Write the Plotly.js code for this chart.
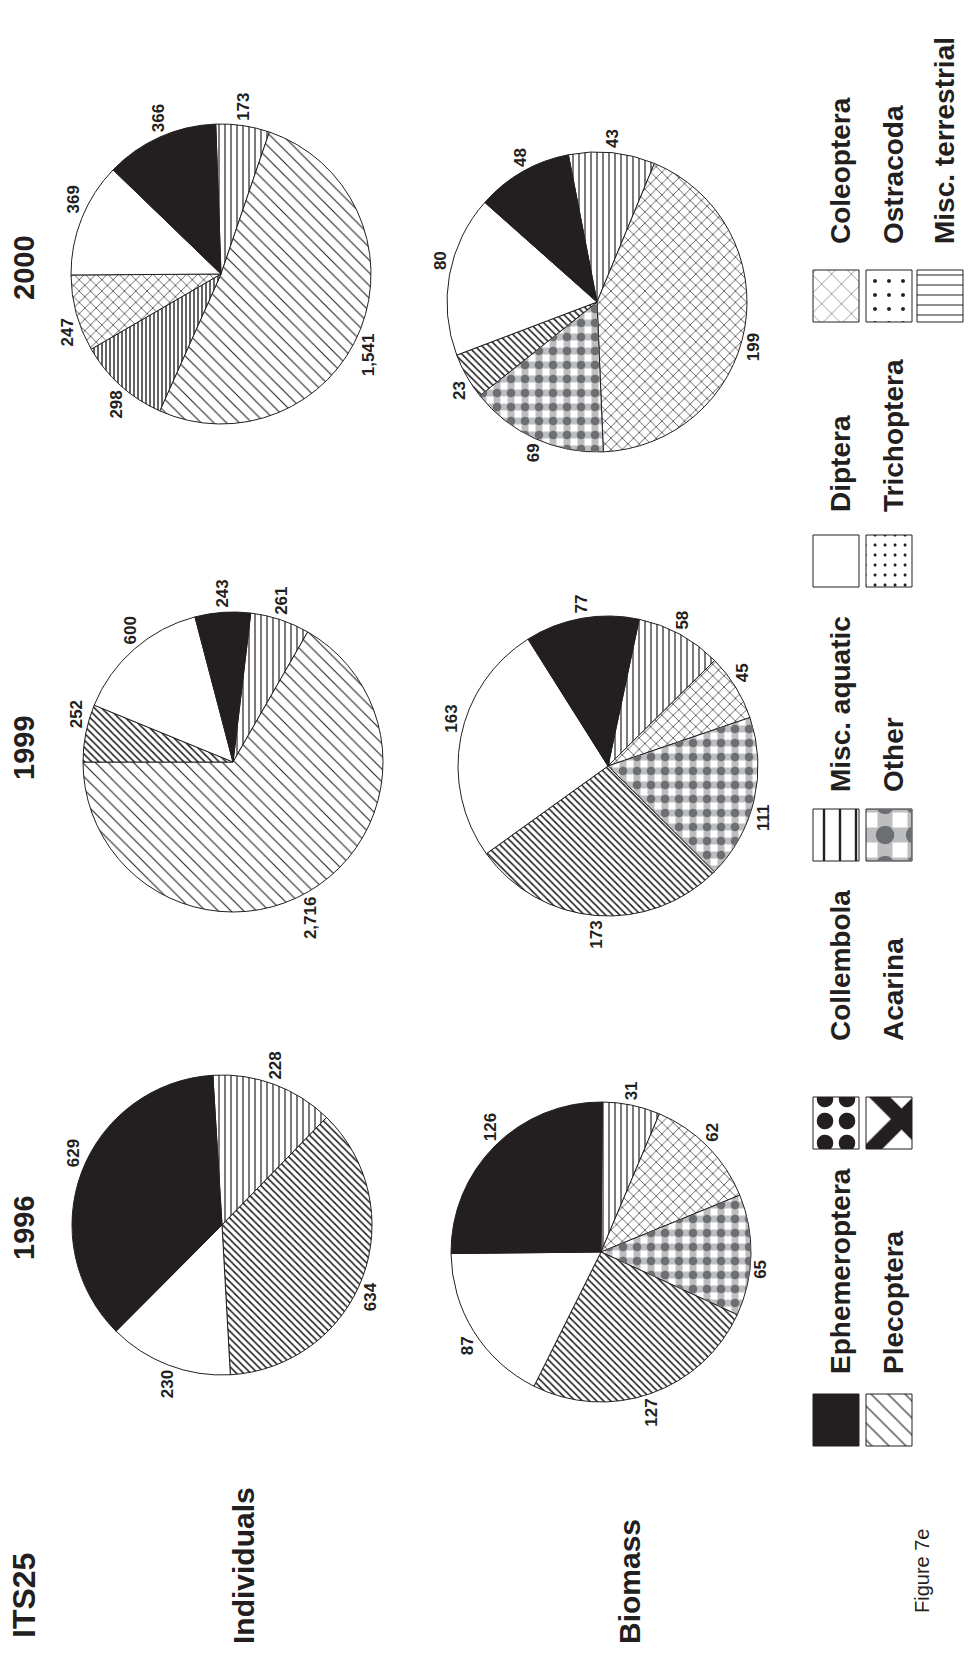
<!DOCTYPE html>
<html>
<head>
<meta charset="utf-8">
<script src="https://cdn.plot.ly/plotly-3.0.1.min.js"></script>
<style>
html, body { margin:0; padding:0; width:972px; height:1660px; overflow:hidden; background:#ffffff; }
#chart { position:absolute; left:0; top:0; width:1660px; height:972px;
         transform-origin:0 0; transform:translate(0px,1660px) rotate(-90deg); }
</style>
</head>
<body>
<div id="chart"></div>
<script>
// ---------------- DATA ----------------
// slice order (drawn clockwise from the Ephemeroptera / Misc. terrestrial boundary)
const pieCategories = ['Misc. terrestrial', 'Ostracoda', 'Misc. aquatic', 'Coleoptera', 'Other', 'Plecoptera', 'Diptera', 'Ephemeroptera'];

const individuals1996 = [228, 0, 0, 0, 0, 634, 230, 629];
const individuals1999 = [261, 2716, 0, 0, 0, 252, 600, 243];
const individuals2000 = [173, 1541, 298, 247, 0, 0, 369, 366];

const biomass1996 = [31, 0, 0, 62, 65, 127, 87, 126];
const biomass1999 = [58, 0, 0, 45, 111, 173, 163, 77];
const biomass2000 = [43, 0, 0, 199, 69, 23, 80, 48];

const years = ['1996', '1999', '2000'];
const rowTitles = ['Individuals', 'Biomass'];
const legendLabels = ['Ephemeroptera', 'Plecoptera', 'Collembola', 'Acarina', 'Misc. aquatic', 'Other',
                      'Diptera', 'Trichoptera', 'Coleoptera', 'Ostracoda', 'Misc. terrestrial'];
const figureTitle = 'ITS25';
const figureNote = 'Figure 7e';

// ---------------- LAYOUT / STYLE ----------------
const W = 1660, H = 972, R = 150;
const FONT = '"Liberation Sans", Arial, Helvetica, sans-serif';
const INK = '#231f20';
const CLEAR = 'rgba(0,0,0,0)';
const LIGHTGREY = '#bcbec0', DARKGREY = '#6d6e71';

// pie slice fills (base layer)
const pieStyle = {
  'Ephemeroptera':     {color: INK,       shape: '',  size: 8,  solidity: 0.3,  fg: INK,       bg: INK},
  'Diptera':           {color: '#ffffff', shape: '',  size: 8,  solidity: 0.3,  fg: INK,       bg: '#ffffff'},
  'Plecoptera':        {color: '#ffffff', shape: '/', size: 5,  solidity: 0.32, fg: INK,       bg: '#ffffff'},
  'Other':             {color: '#ffffff', shape: '+', size: 14, solidity: 0.75, fg: LIGHTGREY, bg: '#ffffff'},
  'Coleoptera':        {color: '#ffffff', shape: 'x', size: 8,  solidity: 0.16, fg: INK,       bg: '#ffffff'},
  'Misc. aquatic':     {color: '#ffffff', shape: '-', size: 4,  solidity: 0.35, fg: INK,       bg: '#ffffff'},
  'Ostracoda':         {color: '#ffffff', shape: '/', size: 9,  solidity: 0.12, fg: INK,       bg: '#ffffff'},
  'Misc. terrestrial': {color: '#ffffff', shape: '-', size: 6,  solidity: 0.2,  fg: INK,       bg: '#ffffff'}
};
// overlay layer: dark squares at the crossings of the "Other" check
const pieOverlay = {'Other': {shape: '.', size: 14, solidity: 0.3, fg: DARKGREY}};

// legend swatch fills
const swatchStyle = {
  'Ephemeroptera':     {color: INK,       shape: '',  size: 8,  solidity: 0.3,  fg: INK,       bg: INK},
  'Plecoptera':        {color: '#ffffff', shape: '/', size: 12, solidity: 0.1,  fg: INK,       bg: '#ffffff'},
  'Collembola':        {color: '#ffffff', shape: '.', size: 22, solidity: 0.45, fg: INK,       bg: '#ffffff'},
  'Acarina':           {color: '#ffffff', shape: 'x', size: 51, solidity: 0.5,  fg: INK,       bg: '#ffffff'},
  'Misc. aquatic':     {color: '#ffffff', shape: '-', size: 16, solidity: 0.15, fg: INK,       bg: '#ffffff'},
  'Other':             {color: '#ffffff', shape: '+', size: 30, solidity: 0.75, fg: LIGHTGREY, bg: '#ffffff'},
  'Diptera':           {color: '#ffffff', shape: '',  size: 8,  solidity: 0.3,  fg: INK,       bg: '#ffffff'},
  'Trichoptera':       {color: '#ffffff', shape: '.', size: 10, solidity: 0.08, fg: INK,       bg: '#ffffff'},
  'Coleoptera':        {color: '#ffffff', shape: 'x', size: 14, solidity: 0.06, fg: INK,       bg: '#ffffff'},
  'Ostracoda':         {color: '#ffffff', shape: '.', size: 14, solidity: 0.06, fg: INK,       bg: '#ffffff'},
  'Misc. terrestrial': {color: '#ffffff', shape: '|', size: 10, solidity: 0.1,  fg: INK,       bg: '#ffffff'}
};
const swatchOverlay = {'Other': {shape: '.', size: 30, solidity: 0.3, fg: DARKGREY}};

// pie placement in the unrotated frame (u: left->right, v: top->bottom), start angle in degrees
const pieSpecs = [
  {values: individuals1996, u: 435,  v: 222, rot: 86.5},
  {values: biomass1996,     u: 408,  v: 601, rot: 90.5},
  {values: individuals1999, u: 898,  v: 233, rot: 96.8},
  {values: biomass1999,     u: 894,  v: 608, rot: 102},
  {values: individuals2000, u: 1386, v: 221, rot: 88},
  {values: biomass2000,     u: 1358, v: 597, rot: 79}
];

// legend slots: swatch centre u, swatch top v, text start u
const legendSlots = [
  {u: 240,  v: 813, tu: 284},  {u: 240,  v: 866, tu: 284},
  {u: 537,  v: 813, tu: 617},  {u: 537,  v: 866, tu: 617},
  {u: 825,  v: 813, tu: 866},  {u: 825,  v: 866, tu: 866},
  {u: 1099, v: 813, tu: 1146}, {u: 1099, v: 866, tu: 1146},
  {u: 1364, v: 813, tu: 1414}, {u: 1364, v: 866, tu: 1414}, {u: 1364, v: 917, tu: 1414}
];
const SW_W = 52, SW_H = 46;

function pieBase(spec) {
  const labels = [], values = [];
  pieCategories.forEach((c, i) => { if (spec.values[i] > 0) { labels.push(c); values.push(spec.values[i]); } });
  return {
    type: 'pie', labels: labels, values: values, sort: false,
    direction: 'clockwise', rotation: spec.rot,
    domain: {x: [(spec.u - R) / W, (spec.u + R) / W], y: [1 - (spec.v + R) / H, 1 - (spec.v - R) / H]},
    showlegend: false, hoverinfo: 'skip'
  };
}

function pieTrace(spec) {
  const t = pieBase(spec);
  const L = t.labels;
  t.textposition = 'outside';
  t.texttemplate = '%{value:,}';
  t.textfont = {family: FONT, size: 17, color: INK, weight: 'bold'};
  t.marker = {
    colors: L.map(l => pieStyle[l].color),
    line: {color: INK, width: 1},
    pattern: {
      shape: L.map(l => pieStyle[l].shape),
      size: L.map(l => pieStyle[l].size),
      solidity: L.map(l => pieStyle[l].solidity),
      fgcolor: L.map(l => pieStyle[l].fg),
      bgcolor: L.map(l => pieStyle[l].bg),
      fillmode: 'replace'
    }
  };
  return t;
}

function pieOverlayTrace(spec) {
  const t = pieBase(spec);
  const L = t.labels;
  t.textinfo = 'none';
  t.marker = {
    colors: L.map(() => CLEAR),
    line: {color: CLEAR, width: 0},
    pattern: {
      shape: L.map(l => pieOverlay[l] ? pieOverlay[l].shape : ''),
      size: L.map(l => pieOverlay[l] ? pieOverlay[l].size : 8),
      solidity: L.map(l => pieOverlay[l] ? pieOverlay[l].solidity : 0.3),
      fgcolor: L.map(l => pieOverlay[l] ? pieOverlay[l].fg : CLEAR),
      bgcolor: L.map(() => CLEAR),
      fillmode: 'replace'
    }
  };
  return t;
}

const traces = [];
pieSpecs.forEach(spec => {
  traces.push(pieTrace(spec));
  const hasOverlay = pieCategories.some((c, i) => pieOverlay[c] && spec.values[i] > 0);
  if (hasOverlay) traces.push(pieOverlayTrace(spec));
});

// legend swatches as bars on a hidden pixel axis (one trace per swatch)
function swatchBar(slot, st, color, lineWidth) {
  return {
    type: 'bar', xaxis: 'x', yaxis: 'y',
    x: [slot.u], base: [slot.v], y: [SW_H], width: [SW_W],
    marker: {
      color: color,
      line: {color: lineWidth ? INK : CLEAR, width: lineWidth},
      pattern: st.shape ? {shape: st.shape, size: st.size, solidity: st.solidity,
                           fgcolor: st.fg, bgcolor: st.bg || CLEAR, fillmode: 'replace'} : undefined
    },
    showlegend: false, hoverinfo: 'skip'
  };
}
legendLabels.forEach((l, i) => {
  const st = swatchStyle[l];
  traces.push(swatchBar(legendSlots[i], st, st.color, 1));
  if (swatchOverlay[l]) {
    const ov = Object.assign({bg: CLEAR}, swatchOverlay[l]);
    traces.push(swatchBar(legendSlots[i], ov, CLEAR, 0));
  }
});

function ann(text, u, v, size, anchor, weight) {
  return {text: text, xref: 'paper', yref: 'paper', x: u / W, y: 1 - v / H,
          xanchor: anchor, yanchor: 'middle', showarrow: false,
          font: {family: FONT, size: size, color: INK, weight: weight}};
}

const annotations = [
  ann(figureTitle, 20, 24, 32, 'left', 'bold'),
  ann(rowTitles[0], 14, 243, 30, 'left', 'bold'),
  ann(rowTitles[1], 14, 629, 30, 'left', 'bold'),
  ann(years[0], 432, 24, 29, 'center', 'bold'),
  ann(years[1], 912, 24, 29, 'center', 'bold'),
  ann(years[2], 1392, 24, 29, 'center', 'bold'),
  ann(figureNote, 45, 922, 20, 'left', 'normal')
];
legendLabels.forEach((l, i) => {
  const s = legendSlots[i];
  annotations.push(ann(l, s.tu, s.v + SW_H / 2 + 4, 28, 'left', 'bold'));
});

const layout = {
  width: W, height: H, autosize: false,
  margin: {l: 0, r: 0, t: 0, b: 0, pad: 0},
  paper_bgcolor: '#ffffff', plot_bgcolor: 'rgba(0,0,0,0)',
  showlegend: false, barmode: 'overlay',
  xaxis: {range: [0, W], visible: false, fixedrange: true, domain: [0, 1]},
  yaxis: {range: [H, 0], visible: false, fixedrange: true, domain: [0, 1]},
  annotations: annotations
};

Plotly.newPlot('chart', traces, layout, {staticPlot: true, displayModeBar: false});
</script>
</body>
</html>
